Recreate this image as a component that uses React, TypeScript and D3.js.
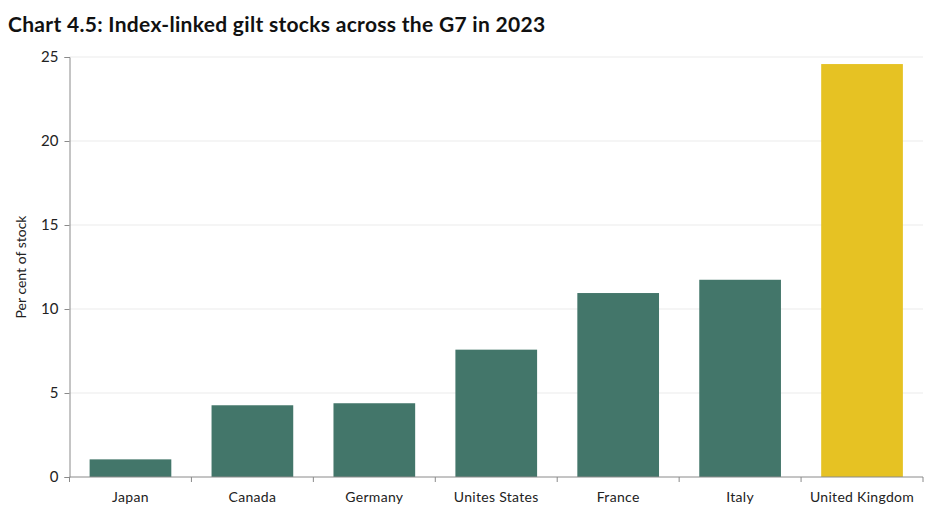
import React from 'react';
import * as d3 from 'd3';

// Data

const countries: string[] = ['Japan', 'Canada', 'Germany', 'Unites States', 'France', 'Italy', 'United Kingdom'];
const stockShare: number[] = [1.05, 4.27, 4.39, 7.58, 10.95, 11.74, 24.58];
const yTicks: number[] = [0, 5, 10, 15, 20, 25];

const width = 929;
const height = 511;
const margin = { top: 57, right: 6, bottom: 34, left: 69.5 };
const font = "'Century Gothic', 'Lato', 'DejaVu Sans', sans-serif";

function IndexLinkedChart() {
    const ref = React.useRef<SVGSVGElement>(null);

    React.useEffect(() => {
        const svg = d3.select(ref.current);
        svg.selectAll('*').remove();

        const x = d3.scaleBand<string>()
            .domain(countries)
            .range([margin.left, width - margin.right])
            .paddingInner(0.33)
            .paddingOuter(0.165);

        const y = d3.scaleLinear()
            .domain([0, 25])
            .range([height - margin.bottom, margin.top]);

        // title
        svg.append('text')
            .attr('x', 8)
            .attr('y', 32)
            .attr('font-family', font)
            .attr('font-weight', 'bold')
            .attr('font-size', 21)
            .attr('letter-spacing', 0.3)
            .attr('fill', '#111')
            .text('Chart 4.5: Index-linked gilt stocks across the G7 in 2023');

        // gridlines
        svg.append('g')
            .selectAll('line')
            .data(yTicks.filter((t) => t > 0))
            .join('line')
            .attr('x1', margin.left)
            .attr('x2', width - margin.right)
            .attr('y1', (d) => y(d))
            .attr('y2', (d) => y(d))
            .attr('stroke', '#ebebeb')
            .attr('stroke-width', 1);

        // bars
        svg.append('g')
            .selectAll('rect')
            .data(countries)
            .join('rect')
            .attr('x', (d) => x(d)!)
            .attr('width', x.bandwidth())
            .attr('y', (d, i) => y(stockShare[i]))
            .attr('height', (d, i) => y(0) - y(stockShare[i]))
            .attr('fill', (d) => d === 'United Kingdom' ? '#e6c223' : '#43766a');

        // y axis
        const yAxis = svg.append('g')
            .attr('transform', `translate(${margin.left},0)`)
            .call(d3.axisLeft(y).tickValues(yTicks).tickSize(5).tickPadding(6));
        yAxis.select('.domain').attr('stroke', '#8a8a8a');
        yAxis.selectAll('.tick line').attr('stroke', '#8a8a8a');
        yAxis.selectAll('.tick text')
            .attr('font-family', font)
            .attr('font-size', 15)
            .attr('fill', '#222');

        // x axis with ticks between bands
        const base = y(0);
        const xAxis = svg.append('g');
        xAxis.append('line')
            .attr('x1', margin.left)
            .attr('x2', width - margin.right)
            .attr('y1', base)
            .attr('y2', base)
            .attr('stroke', '#8a8a8a');
        const step = x.step();
        const edges = countries.map((d) => x(d)! - (step - x.bandwidth()) / 2).concat([width - margin.right]);
        xAxis.selectAll('line.tick')
            .data(edges)
            .join('line')
            .attr('class', 'tick')
            .attr('x1', (d) => d)
            .attr('x2', (d) => d)
            .attr('y1', base)
            .attr('y2', base + 5)
            .attr('stroke', '#8a8a8a');
        xAxis.selectAll('text')
            .data(countries)
            .join('text')
            .attr('x', (d) => x(d)! + x.bandwidth() / 2)
            .attr('y', base + 25)
            .attr('text-anchor', 'middle')
            .attr('font-family', font)
            .attr('font-size', 14)
            .attr('letter-spacing', 0.3)
            .attr('fill', '#222')
            .text((d) => d);

        // y label
        svg.append('text')
            .attr('transform', `translate(26,${(margin.top + height - margin.bottom) / 2}) rotate(-90)`)
            .attr('text-anchor', 'middle')
            .attr('font-family', font)
            .attr('font-size', 14)
            .attr('fill', '#222')
            .text('Per cent of stock');
    }, []);

    return (
        <svg ref={ref} width={width} height={height}
            style={{ position: 'absolute', left: 0, top: 0, background: '#fff' }} />
    );
}

export default function App() {
    return <IndexLinkedChart />;
}
